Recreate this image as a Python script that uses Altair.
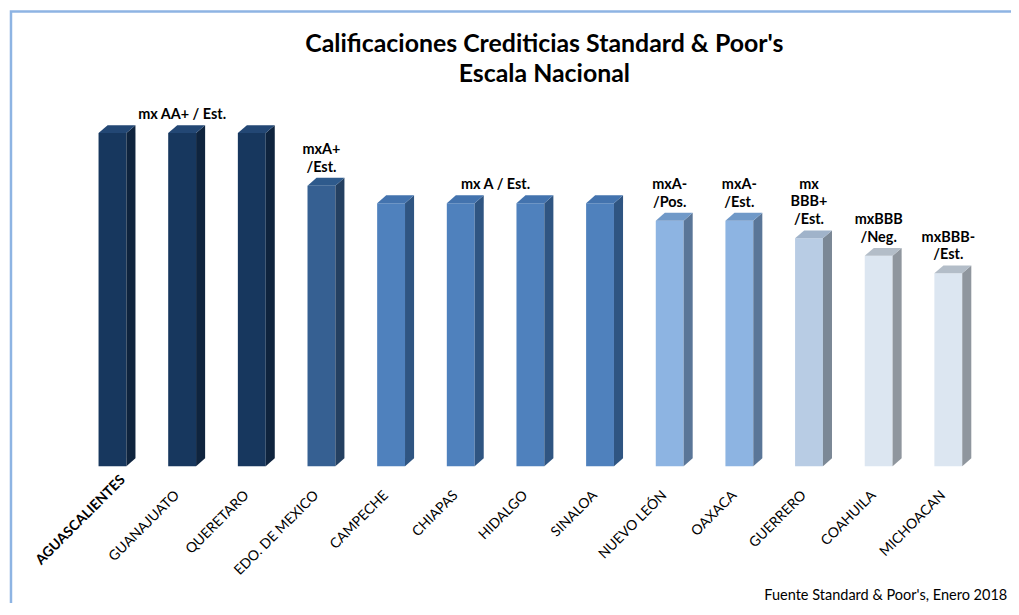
import altair as alt
import pandas as pd

# ---- data ----
states = ["AGUASCALIENTES", "GUANAJUATO", "QUERETARO", "EDO. DE MEXICO", "CAMPECHE",
          "CHIAPAS", "HIDALGO", "SINALOA", "NUEVO LEÓN", "OAXACA", "GUERRERO",
          "COAHUILA", "MICHOACAN"]
# rating scale position (mxAA+ = 19 ... mxBBB- = 11)
scores = [19, 19, 19, 16, 15, 15, 15, 15, 14, 14, 13, 12, 11]
ratings = ["mx AA+ / Est.", "mx AA+ / Est.", "mx AA+ / Est.", "mxA+\n/Est.",
           "mx A / Est.", "mx A / Est.", "mx A / Est.", "mx A / Est.",
           "mxA-\n/Pos.", "mxA-\n/Est.", "mx\nBBB+\n/Est.", "mxBBB\n/Neg.",
           "mxBBB-\n/Est."]
highlight = "AGUASCALIENTES"
title_lines = ["Calificaciones Crediticias Standard & Poor's", "Escala Nacional"]
source_text = "Fuente Standard & Poor's, Enero 2018"

# ---- style ----
front_pal = {19: "#17375E", 16: "#366092", 15: "#4F81BD", 14: "#8DB4E2",
             13: "#B8CCE4", 12: "#DCE6F1", 11: "#DCE6F1"}
side_pal = {19: "#0F243E", 16: "#244061", 15: "#2F5582", 14: "#5A7698",
            13: "#7B8896", 12: "#8F969E", 11: "#8F969E"}
top_pal = {19: "#234774", 16: "#2E5A8C", 15: "#4373AE", 14: "#7099C8",
           13: "#A0B3CA", 12: "#B3BDC8", 11: "#B3BDC8"}
FONT = "Lato"
HALF_W = 0.2   # half bar width (x units)
DX = 0.13      # depth offset (x units)
DY = 0.45      # depth offset (y units)
Y_MAX = 21
PLOT_H = 370
LINE_H = 18
PX_PER_UNIT = PLOT_H / Y_MAX

idx = list(range(len(states)))
bars = pd.DataFrame({"idx": idx, "state": states, "score": scores, "rating": ratings})
bars["front"] = bars["score"].map(front_pal)
bars["bold"] = bars["state"] == highlight
bars["nl"] = [r.count("\n") for r in ratings]

side_rows, top_rows = [], []
for i, s, v in zip(idx, states, scores):
    side_rows.append({"state": s, "x": i + HALF_W, "y": v, "y0": 0, "c": side_pal[v]})
    side_rows.append({"state": s, "x": i + HALF_W + DX, "y": v + DY, "y0": DY, "c": side_pal[v]})
    top_rows.append({"state": s, "y": v, "x0": i - HALF_W, "x1": i + HALF_W, "c": top_pal[v]})
    top_rows.append({"state": s, "y": v + DY, "x0": i - HALF_W + DX, "x1": i + HALF_W + DX, "c": top_pal[v]})
side_df = pd.DataFrame(side_rows)
top_df = pd.DataFrame(top_rows)

xs = alt.Scale(domain=[-0.5, 12.5], nice=False, zero=False)
ys = alt.Scale(domain=[0, Y_MAX], nice=False)

front = alt.Chart(bars).transform_calculate(
    xl=f"datum.idx - {HALF_W}", xr=f"datum.idx + {HALF_W}"
).mark_rect().encode(
    x=alt.X("xl:Q", scale=xs, axis=None),
    x2="xr:Q",
    y=alt.Y("score:Q", scale=ys, axis=None),
    y2=alt.datum(0),
    color=alt.Color("front:N", scale=None),
)

side = alt.Chart(side_df).mark_area(interpolate="linear").encode(
    x=alt.X("x:Q", scale=xs, axis=None),
    y=alt.Y("y:Q", scale=ys, axis=None, stack=None),
    y2="y0:Q",
    detail="state:N",
    color=alt.Color("c:N", scale=None),
)

top = alt.Chart(top_df).mark_area(orient="horizontal", interpolate="linear").encode(
    y=alt.Y("y:Q", scale=ys, axis=None),
    x=alt.X("x0:Q", scale=xs, axis=None, stack=None),
    x2="x1:Q",
    detail="state:N",
    color=alt.Color("c:N", scale=None),
)

# rating labels: one per group of equal rating, centred over the group
ann = alt.Chart(bars).transform_aggregate(
    cx="mean(idx)", top="max(score)", nl="max(nl)", groupby=["rating"]
).transform_calculate(
    ly=f"datum.top + datum.nl * {LINE_H / PX_PER_UNIT}"
).mark_text(font=FONT, fontSize=14.5, fontWeight="bold", baseline="bottom",
            lineBreak="\n", lineHeight=LINE_H, dy=-11, color="#000000").encode(
    x=alt.X("cx:Q", scale=xs, axis=None),
    y=alt.Y("ly:Q", scale=ys, axis=None),
    text="rating:N",
)

labels = alt.Chart(bars).transform_filter("!datum.bold").transform_calculate(
    lx="datum.idx - 0.07"
).mark_text(
    font=FONT, fontSize=14, angle=315, align="right", baseline="middle", color="#000000"
).encode(
    x=alt.X("lx:Q", scale=xs, axis=None),
    y=alt.datum(-1.55),
    text="state:N",
)
labels_b = alt.Chart(bars).transform_filter("datum.bold").transform_calculate(
    lx="datum.idx - 0.07"
).mark_text(
    font=FONT, fontSize=14, fontWeight="bold", angle=315, align="right",
    baseline="middle", dx=22, color="#000000"
).encode(
    x=alt.X("lx:Q", scale=xs, axis=None),
    y=alt.datum(-1.55),
    text="state:N",
)

one = pd.DataFrame({"k": [0]})
border = alt.Chart(one).mark_rect(fillOpacity=0, stroke="#8EB4E3", strokeWidth=2.5).encode(
    x=alt.value(-67), x2=alt.value(1100), y=alt.value(-87), y2=alt.value(700)
)
title = alt.Chart(one).mark_text(font=FONT, fontSize=25, fontWeight="bold",
                                 baseline="middle", align="center", lineHeight=30,
                                 color="#000000").encode(
    x=alt.value(469), y=alt.value(-54), text=alt.value(title_lines)
)
source = alt.Chart(one).mark_text(font=FONT, fontSize=14.6, align="left",
                                  baseline="middle", color="#000000").encode(
    x=alt.value(690), y=alt.value(500), text=alt.value(source_text)
)

chart = alt.layer(border, title, front, side, top, ann, labels, labels_b, source).properties(
    width=910, height=PLOT_H,
    padding={"left": 70, "top": 89, "right": 28, "bottom": 136},
    autosize=alt.AutoSizeParams(type="none"),
).configure_view(stroke=None)

chart.save("out.html", embed_options={"renderer": "svg", "actions": False})
